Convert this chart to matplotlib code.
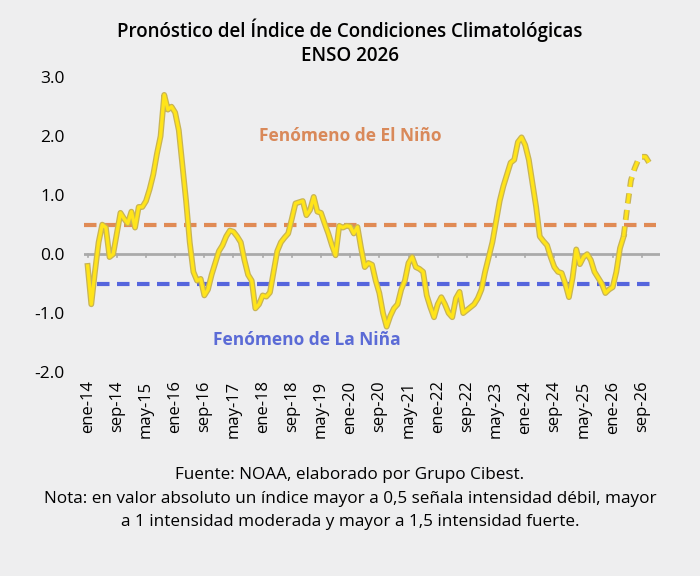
import numpy as np
import matplotlib.pyplot as plt
import matplotlib.patheffects as pe

# ===================== datos =====================
oni_obs = [
    -0.2, -0.85, -0.3, 0.2, 0.5, 0.45, -0.05, 0.0, 0.35, 0.7,
    0.6, 0.52, 0.72, 0.45, 0.8, 0.8, 0.9, 1.1, 1.35, 1.7,
    2.0, 2.7, 2.45, 2.5, 2.4, 2.1, 1.5, 0.9, 0.2, -0.3,
    -0.45, -0.42, -0.7, -0.6, -0.35, -0.15, 0.05, 0.15, 0.3, 0.4,
    0.38, 0.3, 0.2, -0.1, -0.35, -0.45, -0.92, -0.85, -0.7, -0.72,
    -0.65, -0.3, 0.05, 0.2, 0.28, 0.35, 0.6, 0.86, 0.88, 0.9,
    0.66, 0.75, 0.97, 0.72, 0.7, 0.52, 0.35, 0.15, -0.02, 0.48,
    0.45, 0.48, 0.47, 0.35, 0.46, 0.1, -0.22, -0.15, -0.18, -0.45,
    -0.66, -1.0, -1.23, -1.05, -0.92, -0.85, -0.6, -0.45, -0.15, -0.05,
    -0.22, -0.25, -0.3, -0.7, -0.9, -1.07, -0.85, -0.73, -0.85, -1.0,
    -1.07, -0.75, -0.64, -1.0, -0.95, -0.9, -0.85, -0.75, -0.6, -0.3,
    -0.05, 0.2, 0.55, 0.9, 1.15, 1.35, 1.55, 1.6, 1.9, 1.98,
    1.85, 1.6, 1.2, 0.8, 0.3, 0.22, 0.15, -0.05, -0.22, -0.3,
    -0.32, -0.5, -0.73, -0.4, 0.08, -0.17, -0.05, 0.0, -0.1, -0.3,
    -0.4, -0.5, -0.66, -0.6, -0.56, -0.3, 0.1, 0.3,
]
oni_fcst = [0.3, 0.8, 1.25, 1.45, 1.6, 1.65, 1.65, 1.55, 1.48]

tick_labels = ['ene-14', 'sep-14', 'may-15', 'ene-16', 'sep-16', 'may-17', 'ene-18',
               'sep-18', 'may-19', 'ene-20', 'sep-20', 'may-21', 'ene-22', 'sep-22',
               'may-23', 'ene-24', 'sep-24', 'may-25', 'ene-26', 'sep-26']
umbral_nino = 0.5
umbral_nina = -0.5

plt.rcParams['font.family'] = ['Open Sans', 'DejaVu Sans']

fig = plt.figure(figsize=(7, 5.76), dpi=100)
fig.patch.set_facecolor('#EEEEEF')
ax = fig.add_axes([0.12, 0.354, 0.823, 0.512])
ax.set_facecolor('none')

x_obs = np.arange(len(oni_obs))
x_fcst = np.arange(len(oni_obs) - 1, len(oni_obs) - 1 + len(oni_fcst))
n_tot = len(oni_obs) + len(oni_fcst) - 1

# eje cero y marcas
ax.axhline(0, color='#AAAAAA', lw=2, zorder=1)
tick_pos = np.arange(len(tick_labels)) * 8
for t in tick_pos:
    ax.plot([t, t], [0, -0.05], color='#AAAAAA', lw=1.2, zorder=1)

ax.plot([-1, n_tot], [umbral_nino] * 2, color='#E08B55', lw=3, ls=(0, (3, 1.8)), zorder=2)
ax.plot([2.5, n_tot], [umbral_nina] * 2, color='#5565DD', lw=3, ls=(0, (3, 1.8)), zorder=2)

stroke = [pe.Stroke(linewidth=4.2, foreground='#C8B455'), pe.Normal()]
ax.plot(x_obs, oni_obs, color='#FFE41A', lw=2.4, zorder=3, path_effects=stroke)
ax.plot(x_fcst, oni_fcst, color='#FFE41A', lw=2.4, ls=(0, (3, 2)), zorder=3, path_effects=stroke)

ax.text(72, 2.0, 'Fenómeno de El Niño', color='#D9895A', fontsize=12.5, fontweight='bold',
        ha='center', va='center')
ax.text(60, -1.45, 'Fenómeno de La Niña', color='#5B6BD6', fontsize=12.5, fontweight='bold',
        ha='center', va='center')

ax.set_xlim(-1, 157)
ax.set_ylim(-2, 3)
ax.set_yticks([-2, -1, 0, 1, 2, 3])
ax.set_yticklabels(['-2.0', '-1.0', '0.0', '1.0', '2.0', '3.0'], fontsize=12.5)
ax.set_xticks(tick_pos)
ax.set_xticklabels(tick_labels, rotation=90, fontsize=12)
ax.tick_params(length=0, pad=6)
ax.tick_params(axis='y', pad=14)
for s in ax.spines.values():
    s.set_visible(False)

fig.text(0.5, 0.948, 'Pronóstico del Índice de Condiciones Climatológicas', ha='center',
         va='center', fontsize=13.5, fontweight='semibold')
fig.text(0.5, 0.903, 'ENSO 2026', ha='center', va='center', fontsize=13.5, fontweight='semibold')

fig.text(0.5, 0.175, 'Fuente: NOAA, elaborado por Grupo Cibest.', ha='center', va='center', fontsize=12.3)
fig.text(0.5, 0.134, 'Nota: en valor absoluto un índice mayor a 0,5 señala intensidad débil, mayor',
         ha='center', va='center', fontsize=12.3)
fig.text(0.5, 0.094, 'a 1 intensidad moderada y mayor a 1,5 intensidad fuerte.',
         ha='center', va='center', fontsize=12.3)

fig.savefig('out.png', dpi=100, facecolor=fig.get_facecolor())
